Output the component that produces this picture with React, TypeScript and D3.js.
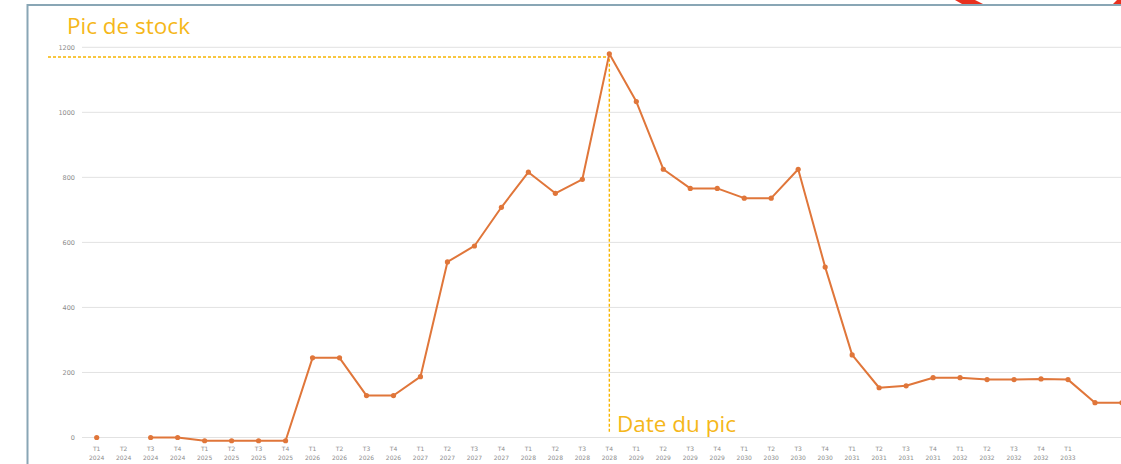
import React, { useMemo } from 'react'
import * as d3 from 'd3'

// quarter labels on the x axis (the last two points carry no label)
const quarters = [
  'T1', 'T2', 'T3', 'T4', 'T1', 'T2', 'T3', 'T4', 'T1', 'T2', 'T3', 'T4',
  'T1', 'T2', 'T3', 'T4', 'T1', 'T2', 'T3', 'T4', 'T1', 'T2', 'T3', 'T4',
  'T1', 'T2', 'T3', 'T4', 'T1', 'T2', 'T3', 'T4', 'T1', 'T2', 'T3', 'T4',
  'T1', '', '',
]
const years = [
  '2024', '2024', '2024', '2024', '2025', '2025', '2025', '2025', '2026', '2026', '2026', '2026',
  '2027', '2027', '2027', '2027', '2028', '2028', '2028', '2028', '2029', '2029', '2029', '2029',
  '2030', '2030', '2030', '2030', '2031', '2031', '2031', '2031', '2032', '2032', '2032', '2032',
  '2033', '', '',
]
// stock level per quarter (null = no value)
const stock: (number | null)[] = [
  0, null, 0, 0, -10, -10, -10, -10, 245, 245, 129, 129,
  187, 540, 589, 708, 816, 751, 794, 1180, 1033, 825, 766, 766,
  736, 736, 825, 524, 254, 153, 159, 184, 184, 178, 178, 180,
  178, 107, 107,
]
const yTicks = [0, 200, 400, 600, 800, 1000, 1200]
const peakGuide = 1170
const peakLabel = 'Pic de stock'
const dateLabel = 'Date du pic'

const W = 1121
const H = 464

const App = () => {
  const x = useMemo(() => d3.scaleLinear().domain([0, 36]).range([96.7, 1068]), [])
  const y = useMemo(() => d3.scaleLinear().domain([0, 1200]).range([437.5, 47.3]), [])

  const linePath = useMemo(() => {
    const gen = d3.line<number | null>()
      .defined((d) => d !== null)
      .x((d, i) => x(i))
      .y((d) => y(d as number))
    return gen(stock)
  }, [x, y])

  const peakIdx = d3.maxIndex(stock, (d) => (d === null ? -Infinity : d))
  const peakVal = stock[peakIdx] as number
  const gold = '#f5b71a'
  const dash = '#f7b500'
  const orange = '#e0763a'

  return (
    <svg width={W} height={H} style={{ position: 'absolute', left: 0, top: 0, background: '#fff' }}>
      {/* frame */}
      <line x1={27.5} x2={27.5} y1={4} y2={H} stroke="#89a6b5" strokeWidth={2} />
      <line x1={27} x2={W} y1={5} y2={5} stroke="#89a6b5" strokeWidth={2} />
      <polygon points="955,0 975,0 983,4 962,4" fill="#e8301e" />
      <polygon points="1121,0 1121,4 1113,4 1117,0" fill="#e8301e" />

      {/* grid + y labels */}
      {yTicks.map((t) => (
        <g key={t}>
          <line x1={82} x2={W} y1={y(t)} y2={y(t)} stroke="#e2e2e2" strokeWidth={1} />
          <text x={75} y={y(t)} dy="0.35em" textAnchor="end" fontSize={6.5}
            fontFamily="DejaVu Sans, sans-serif" fill="#8c8c8c">{t}</text>
        </g>
      ))}

      {/* x labels */}
      {quarters.map((q, i) => (
        <g key={i} fontFamily="DejaVu Sans, sans-serif" fontSize={6} fill="#8c8c8c" textAnchor="middle">
          <text x={x(i)} y={451}>{q}</text>
          <text x={x(i)} y={460}>{years[i]}</text>
        </g>
      ))}

      {/* peak guides */}
      <line x1={48} x2={x(peakIdx)} y1={y(peakGuide)} y2={y(peakGuide)}
        stroke={dash} strokeWidth={1.4} strokeDasharray="3,2" />
      <line x1={x(peakIdx)} x2={x(peakIdx)} y1={y(peakVal)} y2={y(0) - 4}
        stroke={dash} strokeWidth={1.4} strokeDasharray="3,2" />

      {/* series */}
      <path d={linePath || ''} fill="none" stroke={orange} strokeWidth={2} strokeLinejoin="round" />
      {stock.map((v, i) => v === null ? null : (
        <circle key={i} cx={x(i)} cy={y(v)} r={2.6} fill={orange} />
      ))}

      <text x={67} y={34} fontSize={22.5} fontFamily="Open Sans, sans-serif" fill={gold}>{peakLabel}</text>
      <text x={617} y={432} fontSize={22.5} fontFamily="Open Sans, sans-serif" fill={gold}>{dateLabel}</text>
    </svg>
  )
}

export default App
